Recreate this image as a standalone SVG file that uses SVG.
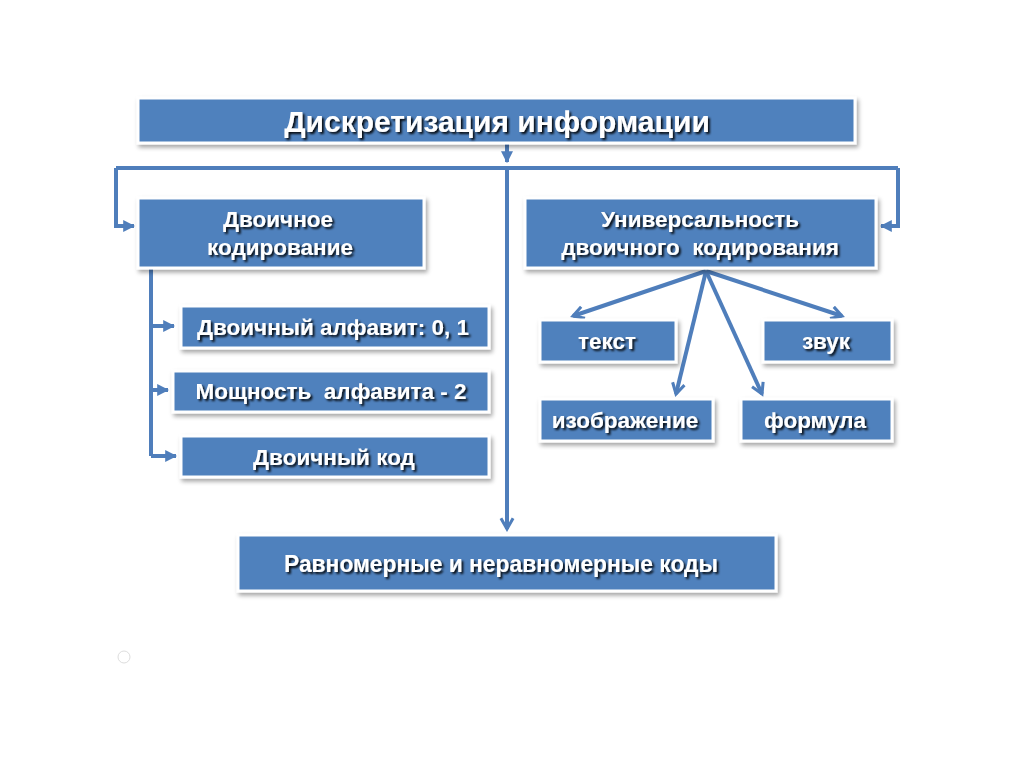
<svg xmlns="http://www.w3.org/2000/svg" width="1024" height="768" viewBox="0 0 1024 768">
<defs>
<filter id="bs" x="-5%" y="-10%" width="112%" height="130%">
<feDropShadow dx="2" dy="3" stdDeviation="2" flood-color="#000" flood-opacity="0.35"/>
</filter>
<filter id="ts" x="-5%" y="-20%" width="110%" height="150%">
<feDropShadow dx="2" dy="2" stdDeviation="0.9" flood-color="#000" flood-opacity="0.9"/>
</filter>
<marker id="ah" viewBox="0 0 10 10" refX="8" refY="5" markerWidth="3.8" markerHeight="3.8" orient="auto" markerUnits="strokeWidth">
<path d="M1,1 L8,5 L1,9" fill="none" stroke="#4F7EBB" stroke-width="2" stroke-linejoin="miter"/>
</marker>
<marker id="at" viewBox="0 0 10 10" refX="9" refY="5" markerWidth="3" markerHeight="3" orient="auto" markerUnits="strokeWidth">
<path d="M0,0 L10,5 L0,10 z" fill="#4F7EBB"/>
</marker>
</defs>
<style>
.box{fill:#4F81BD;stroke:#fff;stroke-width:3;filter:url(#bs)}
.t{fill:#fff;font-family:"Liberation Sans",Arial,sans-serif;font-weight:bold;text-anchor:middle;filter:url(#ts)}
.c{fill:none;stroke:#4F7EBB;stroke-width:4}
</style>
<rect width="1024" height="768" fill="#fff"/>
<g id="connectors">
<path class="c" d="M507,142 V162" marker-end="url(#at)"/>
<path class="c" d="M116,168 H898"/>
<path class="c" d="M507,168 V529" marker-end="url(#ah)"/>
<path class="c" d="M116,168 V226 H134" marker-end="url(#at)"/>
<path class="c" d="M898,168 V226 H881" marker-end="url(#at)"/>
<path class="c" d="M151,268 V456"/>
<path class="c" d="M151,326 H174" marker-end="url(#at)"/>
<path class="c" d="M151,390 H168" marker-end="url(#at)"/>
<path class="c" d="M151,456 H176" marker-end="url(#at)"/>
<path class="c" d="M706,271 L573,316" marker-end="url(#ah)"/>
<path class="c" d="M706,271 L676,394" marker-end="url(#ah)"/>
<path class="c" d="M706,271 L762,394" marker-end="url(#ah)"/>
<path class="c" d="M706,271 L842,316" marker-end="url(#ah)"/>
</g>
<g id="title"><rect class="box" x="138" y="98" width="717" height="45"/><text class="t" x="497" y="132" font-size="30">Дискретизация информации</text></g>
<g id="binary"><rect class="box" x="138" y="198" width="286" height="70"/><text class="t" x="278" y="227" font-size="22.5">Двоичное</text><text class="t" x="280" y="255" font-size="22.5">кодирование</text></g>
<g id="universal"><rect class="box" x="525" y="198" width="351" height="70"/><text class="t" x="700" y="227" font-size="22.5">Универсальность</text><text class="t" x="700" y="255" font-size="22.5" xml:space="preserve">двоичного  кодирования</text></g>
<g id="alphabet"><rect class="box" x="181" y="306" width="308" height="42"/><text class="t" x="333" y="335" font-size="22.5">Двоичный алфавит: 0, 1</text></g>
<g id="power"><rect class="box" x="173" y="371" width="316" height="41"/><text class="t" x="331" y="399" font-size="22.5" xml:space="preserve">Мощность  алфавита - 2</text></g>
<g id="code"><rect class="box" x="181" y="436" width="308" height="41"/><text class="t" x="334" y="465" font-size="22.5">Двоичный код</text></g>
<g id="text"><rect class="box" x="540" y="320" width="136" height="42"/><text class="t" x="607" y="349" font-size="22.5">текст</text></g>
<g id="sound"><rect class="box" x="763" y="320" width="129" height="42"/><text class="t" x="826" y="349" font-size="22.5">звук</text></g>
<g id="image"><rect class="box" x="540" y="399" width="173" height="42"/><text class="t" x="625" y="428" font-size="22.5">изображение</text></g>
<g id="formula"><rect class="box" x="741" y="399" width="151" height="42"/><text class="t" x="815" y="428" font-size="22.5">формула</text></g>
<g id="codes"><rect class="box" x="238" y="535" width="538" height="56"/><text class="t" x="501" y="572" font-size="24" textLength="434" lengthAdjust="spacingAndGlyphs">Равномерные и неравномерные коды</text></g>
<circle cx="124" cy="657" r="6" fill="none" stroke="#ddd" stroke-width="1"/>
</svg>
